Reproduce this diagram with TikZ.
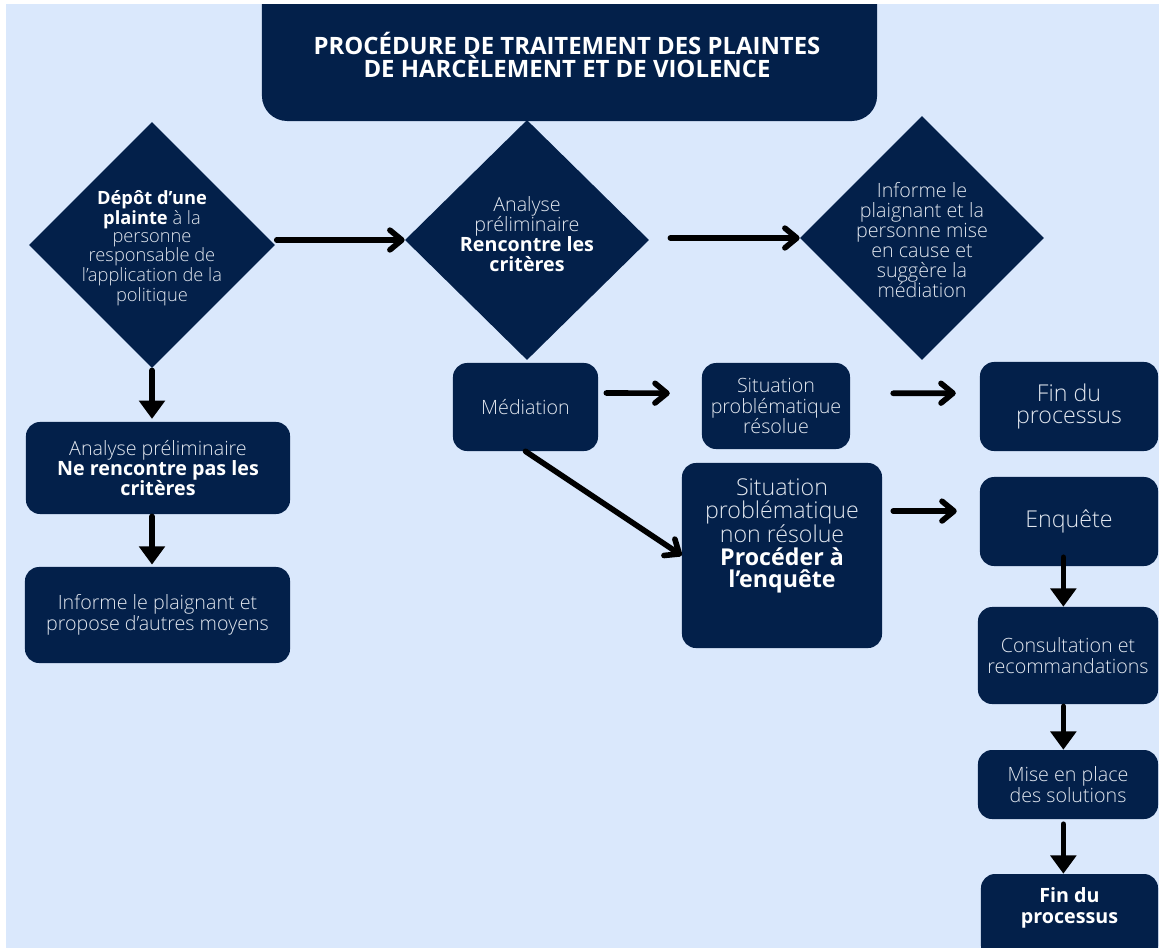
\documentclass[tikz,border=0pt]{standalone}
\usepackage{fontspec}
\setmainfont{Open Sans}[UprightFont={* Light},BoldFont={* Bold}]
\usetikzlibrary{arrows.meta,shapes.geometric}
\definecolor{marine}{HTML}{03204A}
\definecolor{fond}{HTML}{DAE8FC}
\definecolor{pale}{HTML}{E2E7EF}
\newcommand{\gras}[1]{\textcolor{white}{\bfseries #1}}

\begin{document}
\begin{tikzpicture}[line cap=round,line join=round,x=0.025cm,y=-0.025cm,
	boite/.style={rectangle,rounded corners=10pt,fill=marine,text=pale,align=center,inner sep=0pt,font=\fontsize{14}{14.5}\selectfont},
	losange/.style={diamond,fill=marine,inner sep=0pt},
	texte/.style={text=pale,align=center,inner sep=0pt,font=\fontsize{14}{14.5}\selectfont},
	fleche/.style={line width=4pt,-{Straight Barb[length=8.5pt,width=14pt,round]}},
	descente/.style={line width=4pt,-{Triangle[length=13pt,width=18pt]}}]
	\useasboundingbox (0,0) rectangle (1159,948);
	\fill[white] (0,0) rectangle (1159,948);
	\clip (6,4) rectangle (1159,948);
	\fill[fond] (6,4) rectangle (1159,948);
	% titre
	\node[boite,rounded corners=18pt,minimum width=15.375cm,minimum height=3.775cm] (titre) at (569.5,45.5) {};
	\node[texte,text=white,font=\fontsize{17}{17}\selectfont\bfseries] (titre-t) at (567,55) {PROCÉDURE DE TRAITEMENT DES PLAINTES\\DE HARCÈLEMENT ET DE VIOLENCE};
	% losanges
	\node[losange,minimum width=6.15cm,minimum height=6.15cm] (depot) at (152,245) {};
	\node[texte,font=\fontsize{13}{12.6}\selectfont] (depot-t) at (152,248) {\gras{Dépôt d’une}\\\gras{plainte} à la\\personne\\responsable de\\l’application de la\\politique};
	\node[losange,minimum width=6.1cm,minimum height=6cm] (analyse) at (527,240) {};
	\node[texte,font=\fontsize{14}{14.2}\selectfont] (analyse-t) at (527,234) {Analyse\\préliminaire\\\gras{Rencontre les}\\\gras{critères}};
	\node[losange,minimum width=6.1cm,minimum height=6.1cm] (informe) at (922,238) {};
	\node[texte,font=\fontsize{14}{14.2}\selectfont] (informe-t) at (922,240) {Informe le\\plaignant et la\\personne mise\\en cause et\\suggère la\\médiation};
	% colonne de gauche
	\node[boite,minimum width=6.6cm,minimum height=2.3cm] (nonrencontre) at (158,468) {Analyse préliminaire\\\gras{Ne rencontre pas les}\\\gras{critères}};
	\node[boite,minimum width=6.625cm,minimum height=2.4cm] (autres) at (157.5,615) {Informe le plaignant et\\propose d’autres moyens};
	% milieu
	\node[boite,minimum width=3.625cm,minimum height=2.2cm] (mediation) at (525.5,407) {Médiation};
	\node[boite,minimum width=3.7cm,minimum height=2.15cm] (resolue) at (776,406) {Situation\\problématique\\résolue};
	\node[boite,minimum width=5cm,minimum height=4.625cm] (nonresolue) at (782,555.5) {};
	\node[texte,font=\fontsize{16.5}{16}\selectfont] (nonresolue-t) at (782,536) {Situation\\problématique\\non résolue\\\gras{Procéder à}\\\gras{l’enquête}};
	% colonne de droite
	\node[boite,font=\fontsize{16.5}{16}\selectfont,minimum width=4.45cm,minimum height=2.225cm] (fin) at (1069,406.5) {Fin du\\processus};
	\node[boite,font=\fontsize{16.5}{16}\selectfont,minimum width=4.45cm,minimum height=2.225cm] (enquete) at (1069,521.5) {Enquête};
	\node[boite,minimum width=4.5cm,minimum height=2.425cm] (consult) at (1068,655.5) {Consultation et\\recommandations};
	\node[boite,minimum width=4.5cm,minimum height=1.725cm] (solutions) at (1068,784.5) {Mise en place\\des solutions};
	\node[boite,minimum width=4.425cm,minimum height=2.15cm] (finbis) at (1069.5,917) {};
	\node[texte] (finbis-t) at (1069.5,908) {\gras{Fin du}\\\gras{processus}};
	% fleches
	\draw[fleche,shorten <=1pt] (depot.east |- analyse.west) -- (analyse.west);
	\draw[fleche,shorten <=15pt] (analyse.east |- informe.west) -- (informe.west);
	\draw[descente,shorten <=1.5pt,shorten >=2pt] (depot.south) -- (depot.south |- nonrencontre.north);
	\draw[descente,shorten <=1.5pt,shorten >=1.5pt] (depot.south |- nonrencontre.south) -- (depot.south |- autres.north);
	\draw[fleche,shorten <=5.7pt,shorten >=22.7pt] ([yshift=10pt]mediation.east) -- ([yshift=9pt]resolue.west);
	\draw[fleche,shorten <=30.5pt,shorten >=17pt] ([yshift=9pt]resolue.east) -- ([yshift=9.5pt]fin.west);
	\draw[fleche] (mediation.south) -- (nonresolue.west);
	\draw[fleche,shorten <=7.8pt,shorten >=16.3pt] ([yshift=7.4pt]nonresolue.east |- enquete.west) -- ([yshift=7.4pt]enquete.west);
	\draw[descente] ([xshift=-4pt,yshift=6.4pt]enquete.south) -- ([xshift=-4pt]enquete.south |- consult.north);
	\draw[descente,shorten <=1.5pt] ([xshift=-4pt]enquete.south |- consult.south) -- ([xshift=-4pt]enquete.south |- solutions.north);
	\draw[descente,shorten <=3.5pt] ([xshift=-4pt]enquete.south |- solutions.south) -- ([xshift=-4pt]enquete.south |- finbis.north);
\end{tikzpicture}
\end{document}
